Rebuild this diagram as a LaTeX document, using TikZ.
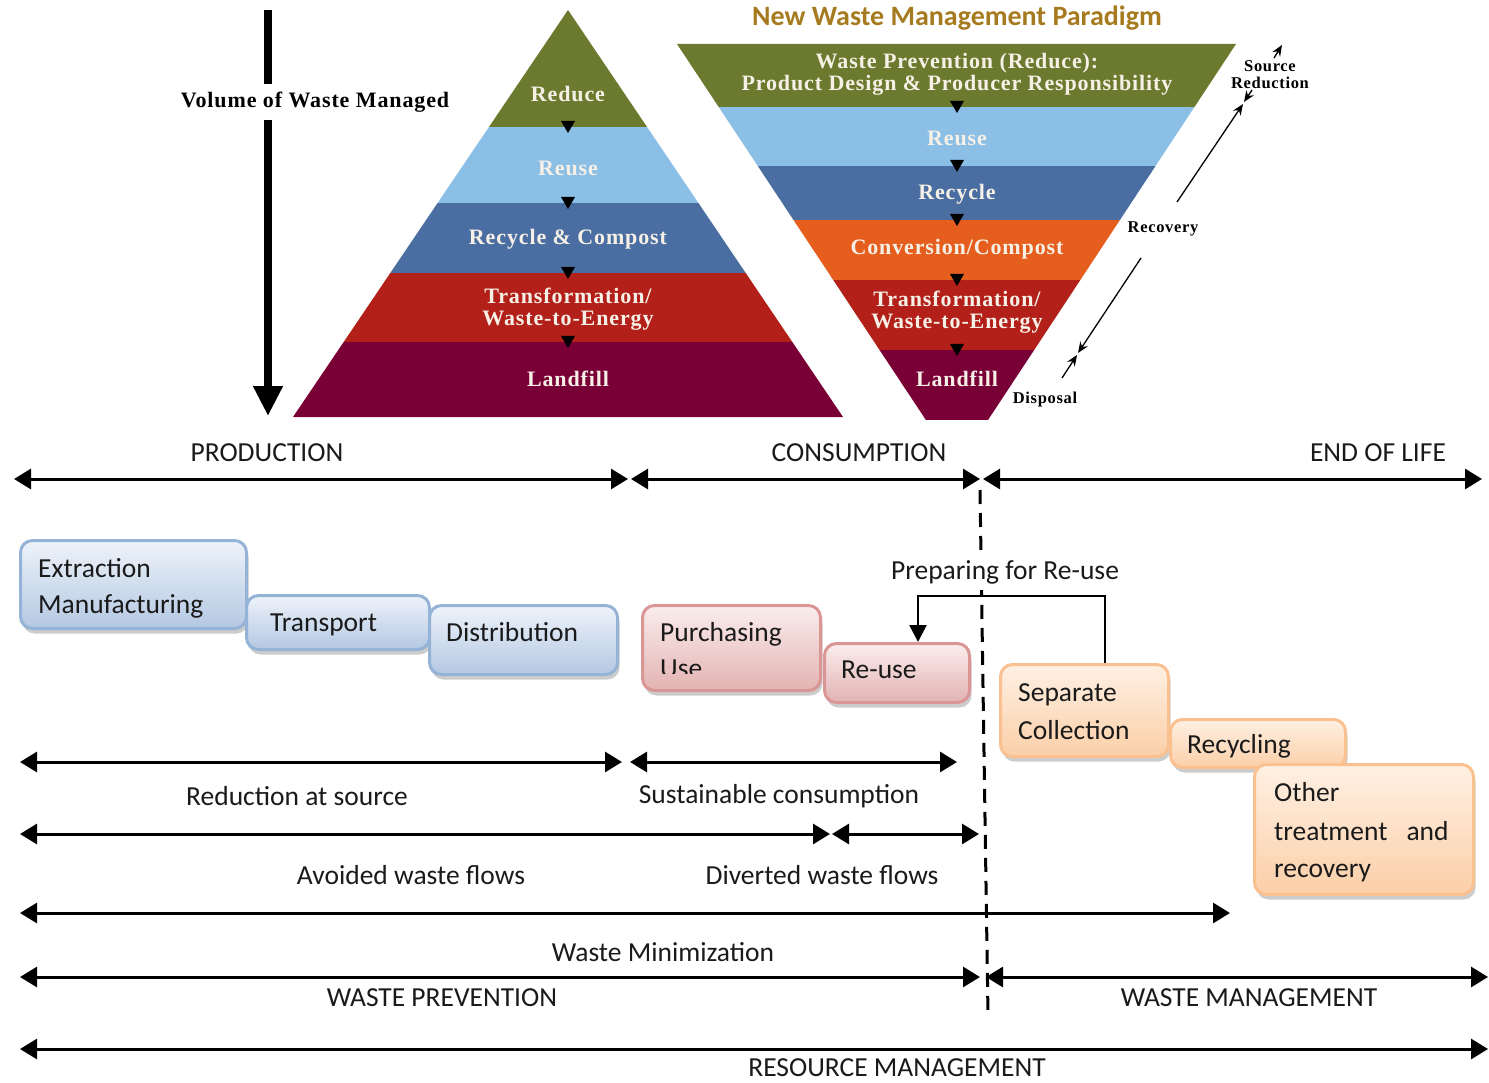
\documentclass[tikz,border=0pt]{standalone}
\usepackage{fontspec}
\setmainfont{Carlito}
\newfontfamily\serifbold{Liberation Serif}[LetterSpace=4]
\usetikzlibrary{arrows.meta,shadows}

% hierarchy band colours
\definecolor{olive}{HTML}{6B7A2E}
\definecolor{skyb}{HTML}{8CBFE6}
\definecolor{steel}{HTML}{4A6EA2}
\definecolor{brick}{HTML}{B3201A}
\definecolor{wine}{HTML}{790036}
\definecolor{orng}{HTML}{E55E1E}
\definecolor{gold}{HTML}{A67A1E}
\definecolor{pyrtext}{HTML}{F6F0E6}
\definecolor{ink}{HTML}{1A1A1A}
% life-cycle box colours
\definecolor{bluedge}{HTML}{95B3D7}
\definecolor{bluetop}{HTML}{EEF3FA}
\definecolor{bluebot}{HTML}{B4C8E2}
\definecolor{pinkedge}{HTML}{D99694}
\definecolor{pinktop}{HTML}{FAEDED}
\definecolor{pinkbot}{HTML}{E3B3B2}
\definecolor{orngedge}{HTML}{FAC090}
\definecolor{orngtop}{HTML}{FEF0E3}
\definecolor{orngbot}{HTML}{FBCFA8}

\newcommand\lbl{\fontsize{27.5}{33}\selectfont}
\newcommand\pyrfont{\serifbold\bfseries\fontsize{22}{22}\selectfont}
\newcommand\notefont{\serifbold\bfseries\fontsize{16.5}{17}\selectfont}

\tikzset{
  lab/.style={font=\lbl, text=ink, inner sep=0pt},
  linetext/.style={font=\lbl, text=ink, inner sep=0pt, anchor=base west},
  pyr/.style={font=\pyrfont, text=pyrtext, inner sep=0pt, align=center},
  note/.style={font=\notefont, text=black, inner sep=0pt, align=center},
  span/.style={line width=3pt, {Triangle[length=17pt,width=20pt]}-{Triangle[length=17pt,width=20pt]}},
  slant/.style={line width=1.3pt, -{Stealth[length=11pt,width=9pt]}},
  procbox/.style={anchor=north west, inner sep=0pt, line width=3pt, rounded corners=12pt,
    drop shadow={shadow xshift=2pt, shadow yshift=-5pt, fill=black!50, opacity=0.4}},
  bluebox/.style={procbox, draw=bluedge, top color=bluetop, bottom color=bluebot},
  pinkbox/.style={procbox, draw=pinkedge, top color=pinktop, bottom color=pinkbot},
  orngbox/.style={procbox, draw=orngedge, top color=orngtop, bottom color=orngbot},
}

\begin{document}
\begin{tikzpicture}[x=1pt,y=-1pt]
\useasboundingbox (0,0) rectangle (1489,1083);

% ---------- traditional waste hierarchy ----------
\begin{scope}
  \clip (568,10) -- (843,417) -- (293,417) -- cycle;
  \fill[olive] (280,0)   rectangle (860,127);
  \fill[skyb]  (280,127) rectangle (860,203);
  \fill[steel] (280,203) rectangle (860,273);
  \fill[brick] (280,273) rectangle (860,342);
  \fill[wine]  (280,342) rectangle (860,420);
\end{scope}
\foreach \y in {127,203,273,342}
  \fill (561,\y-6) -- (575,\y-6) -- (568,\y+6) -- cycle;
\node[pyr] (h1) at (568,94)  {Reduce};
\node[pyr] (h2) at (568,168) {Reuse};
\node[pyr] (h3) at (568,239) {Recycle \& Compost};
\node[pyr] (h4) at (568,309) {Transformation/\\Waste-to-Energy};
\node[pyr] (h5) at (568,379) {Landfill};

% volume arrow
\node[font=\serifbold\bfseries\fontsize{22}{22}\selectfont, inner sep=0pt] (vol) at (315,102) {Volume of Waste Managed};
\coordinate (vtop) at (268,10);
\coordinate (vbot) at (268,416);
\draw[line width=8pt] (vtop) -- ([yshift=8pt]vtop |- vol.north);
\draw[line width=8pt, -{Triangle[length=30pt,width=28pt]}] ([yshift=-8pt]vtop |- vol.south) -- (vbot);

% ---------- new paradigm (inverted) ----------
\node[font=\bfseries\fontsize{28}{28}\selectfont, text=gold, inner sep=0pt] (title) at (957,18) {New Waste Management Paradigm};
\begin{scope}
  \clip (677,44) -- (1236,44) -- (957,467) -- cycle;
  \fill[olive] (670,40)  rectangle (1240,107);
  \fill[skyb]  (670,107) rectangle (1240,166);
  \fill[steel] (670,166) rectangle (1240,220);
  \fill[orng]  (670,220) rectangle (1240,280);
  \fill[brick] (670,280) rectangle (1240,350);
  \fill[wine]  (670,350) rectangle (1240,420);
\end{scope}
\foreach \y in {107,166,220,280,350}
  \fill (950,\y-6) -- (964,\y-6) -- (957,\y+6) -- cycle;
\node[pyr] (n1) at (957,74)  {Waste Prevention (Reduce):\\Product Design \& Producer Responsibility};
\node[pyr] (n2) at (957,138) {Reuse};
\node[pyr] (n3) at (957,194) {Recycle};
\node[pyr] (n4) at (957,249) {Conversion/Compost};
\node[pyr] (n5) at (957,312) {Transformation/\\Waste-to-Energy};
\node[pyr] (n6) at (957,379) {Landfill};

% side annotations
\node[note] (srcred) at (1270,75) {Source\\Reduction};
\node[note] (recov) at (1163,229) {Recovery};
\node[note] (disp) at (1045,400) {Disposal};
\coordinate (s1) at (1274,58);  \coordinate (s2) at (1282,45);
\coordinate (s3) at (1252,90);  \coordinate (s4) at (1244,102);
\coordinate (r1) at (1177,202); \coordinate (r2) at (1243,104);
\coordinate (r3) at (1141,258); \coordinate (r4) at (1078,353);
\coordinate (d1) at (1062,378); \coordinate (d2) at (1077,355);
\draw[slant] (s1) -- (s2);
\draw[slant] (s3) -- (s4);
\draw[slant] (r1) -- (r2);
\draw[slant] (r3) -- (r4);
\draw[slant] (d1) -- (d2);

% ---------- life-cycle phases ----------
\node[lab] (prod) at (267,453)  {PRODUCTION};
\node[lab] (cons) at (859,453)  {CONSUMPTION};
\node[lab] (eol)  at (1378,453) {END OF LIFE};
\coordinate (a1) at (14,479);  \coordinate (a2) at (628,479);
\coordinate (a3) at (631,479); \coordinate (a4) at (980,479);
\coordinate (a5) at (983,479); \coordinate (a6) at (1482,479);
\draw[span] (a1) -- (a2);
\draw[span] (a3) -- (a4);
\draw[span] (a5) -- (a6);

% boundary between prevention and management
\coordinate (dt) at (980,490);
\coordinate (db) at (988,1015);
\draw[line width=3pt, dash pattern=on 14pt off 9pt] (dt) -- (db);

% ---------- process boxes ----------
\node[bluebox, minimum width=226pt, minimum height=88pt] (bExt) at (19,539) {};
\node[bluebox, minimum width=183pt, minimum height=54pt] (bTra) at (245,594) {};
\node[bluebox, minimum width=188pt, minimum height=69pt] (bDis) at (428,604) {};
\node[pinkbox, minimum width=178pt, minimum height=85pt] (bPur) at (641,604) {};
\node[pinkbox, minimum width=145pt, minimum height=59pt] (bReu) at (823,642) {};
\node[orngbox, minimum width=168pt, minimum height=92pt] (bSep) at (999,663) {};
\node[orngbox, minimum width=175pt, minimum height=48pt] (bRec) at (1169,718) {};
\node[orngbox, minimum width=219pt, minimum height=130pt] (bOth) at (1253,763) {};

\begin{scope}
  \clip (bExt.north west) rectangle ([yshift=13pt]bExt.south east);
  \node[linetext] (tExt1) at (38,577) {Extraction};
  \node[linetext] (tExt2) at (38,613) {Manufacturing};
\end{scope}
\node[linetext] (tTra) at (270,631) {Transport};
\node[linetext] (tDis) at (446,641) {Distribution};
\begin{scope}
  \clip (bPur.north west) rectangle ([yshift=19pt]bPur.south east);
  \node[linetext] (tPur1) at (660,641) {Purchasing};
  \node[linetext] (tPur2) at (660,677) {Use};
\end{scope}
\node[linetext] (tReu) at (841,678) {Re-use};
\node[linetext] (tSep1) at (1018,701) {Separate};
\node[linetext] (tSep2) at (1018,739) {Collection};
\begin{scope}
  \clip (bRec.north west) rectangle ([yshift=12pt]bRec.south east);
  \node[linetext] (tRec) at (1187,753) {Recycling};
\end{scope}
\begin{scope}
  \clip (bOth.north west) rectangle ([yshift=14pt]bOth.south east);
  \node[linetext] (tOth1) at (1274,801) {Other};
  \node[linetext] (tOth2) at (1274,840) {treatment\hspace{19pt}and};
  \node[linetext] (tOth3) at (1274,877) {recovery};
\end{scope}

% preparing for re-use loop (label masks the boundary line)
\node[lab, fill=white, inner ysep=6pt, inner xsep=2pt] (prep) at (1005,572) {Preparing for Re-use};
\coordinate (pr) at (1105,596);
\coordinate (pl) at (918,596);
\draw[line width=2.5pt, -{Triangle[length=17pt,width=17pt]}] (pr |- bSep.north) -- (pr) -- (pl) -- (pl |- bReu.north);

% ---------- scope arrows ----------
\coordinate (b1) at (20,762);  \coordinate (b2) at (622,762);
\coordinate (b3) at (630,762); \coordinate (b4) at (957,762);
\coordinate (c1) at (20,834);  \coordinate (c2) at (830,834);
\coordinate (c3) at (832,834); \coordinate (c4) at (979,834);
\coordinate (m1) at (20,913);  \coordinate (m2) at (1230,913);
\coordinate (w1) at (20,977);  \coordinate (w2) at (980,977);
\coordinate (w3) at (986,977); \coordinate (w4) at (1488,977);
\coordinate (g1) at (20,1049); \coordinate (g2) at (1488,1049);
\draw[span] (b1) -- (b2);
\draw[span] (b3) -- (b4);
\draw[span] (c1) -- (c2);
\draw[span] (c3) -- (c4);
\draw[span] (m1) -- (m2);
\draw[span] (w1) -- (w2);
\draw[span] (w3) -- (w4);
\draw[span] (g1) -- (g2);

\node[lab] (lRed) at (297,796)  {Reduction at source};
\node[lab] (lSus) at (779,796)  {Sustainable consumption};
\node[lab] (lAvo) at (411,875)  {Avoided waste flows};
\node[lab] (lDiv) at (822,875)  {Diverted waste flows};
\node[lab] (lMin) at (663,952)  {Waste Minimization};
\node[lab] (lPre) at (442,998)  {WASTE PREVENTION};
\node[lab] (lMan) at (1249,998) {WASTE MANAGEMENT};
\node[lab] (lRes) at (897,1068) {RESOURCE MANAGEMENT};
\end{tikzpicture}
\end{document}
